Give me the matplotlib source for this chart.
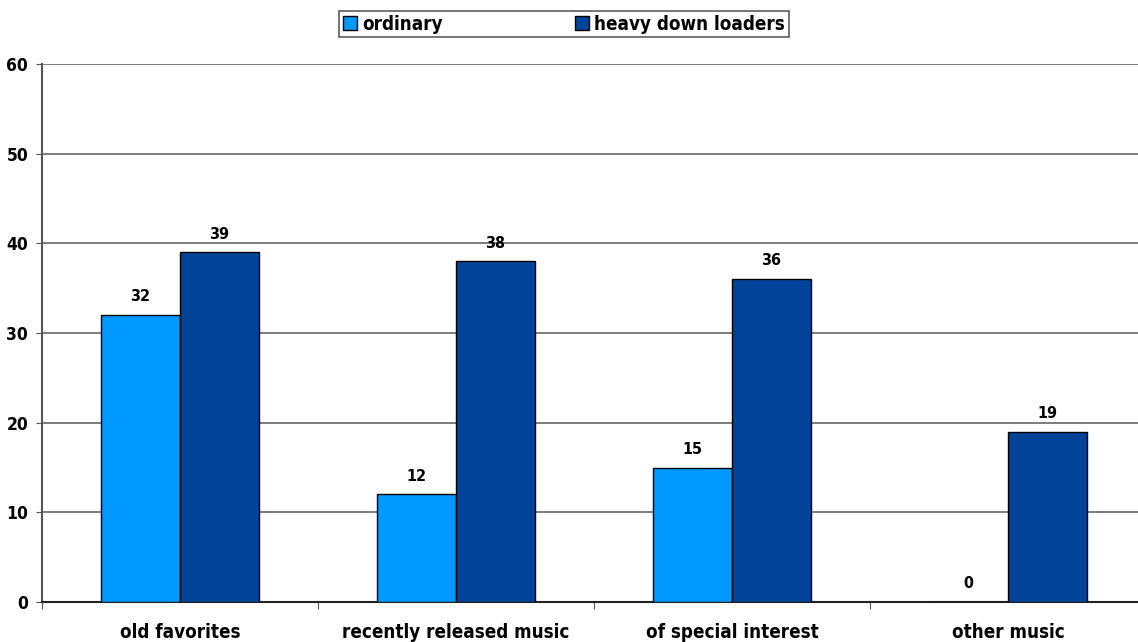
import numpy as np
import matplotlib
matplotlib.use('Agg')
import matplotlib.pyplot as plt
from matplotlib.patches import Patch

plt.rcParams['font.family'] = ['DejaVu Sans']
plt.rcParams['font.stretch'] = 'condensed'
plt.rcParams['font.weight'] = 'bold'

categories = ['old favorites', 'recently released music', 'of special interest', 'other music']
ordinary = [32, 12, 15, 0]
heavy = [39, 38, 36, 19]
series_names = ['ordinary', 'heavy down loaders']
colors = ['#0099FF', '#004499']

fig = plt.figure(figsize=(11.38, 6.42), dpi=100)
ax = fig.add_axes([42 / 1138, 1 - 602 / 642, 1104 / 1138, (602 - 64) / 642])

x = np.arange(len(categories))
w = 0.286
b1 = ax.bar(x - w / 2, ordinary, w, color=colors[0], edgecolor='black', linewidth=1, zorder=3)
b2 = ax.bar(x + w / 2, heavy, w, color=colors[1], edgecolor='black', linewidth=1, zorder=3)

for bars, vals in ((b1, ordinary), (b2, heavy)):
    for r, v in zip(bars, vals):
        ax.text(r.get_x() + r.get_width() / 2, v + 1.2, str(v), ha='center', va='bottom',
                fontsize=11.5, fontweight='bold')

ax.set_xlim(-0.5, len(categories) - 0.5)
ax.set_ylim(0, 60)
ax.set_yticks(range(0, 61, 10))
ax.yaxis.grid(True, color='#666666', linewidth=1.2, zorder=0)
ax.set_axisbelow(True)

ax.set_xticks(np.arange(len(categories) + 1) - 0.5)
ax.set_xticklabels([])
ax.set_xticks(x, minor=True)
ax.set_xticklabels(categories, minor=True, fontsize=13.5, fontweight='bold')
ax.tick_params(axis='x', which='minor', length=0, pad=15)
ax.tick_params(axis='x', which='major', length=5, color='#555555', direction='out')
ax.tick_params(axis='y', length=4, color='#555555', labelsize=12.5, pad=6)

for s in ['top', 'right']:
    ax.spines[s].set_visible(False)
ax.spines['left'].set_color('#555555')
ax.spines['left'].set_linewidth(1.5)
ax.spines['bottom'].set_color('#222222')
ax.spines['bottom'].set_linewidth(1.5)

handles = [Patch(facecolor=c, edgecolor='black', label=n) for c, n in zip(colors, series_names)]
leg = fig.legend(handles=handles, loc='center', bbox_to_anchor=(564 / 1138, 1 - 24 / 642),
                 ncol=2, frameon=True, fancybox=False, edgecolor='#333333',
                 prop={'size': 13.5, 'weight': 'bold', 'stretch': 'condensed'},
                 handlelength=0.75, handleheight=0.75,
                 handletextpad=0.3, columnspacing=7.0, borderpad=0.2, borderaxespad=0)
leg.get_frame().set_linewidth(1.2)

fig.savefig('out.png', dpi=100)
